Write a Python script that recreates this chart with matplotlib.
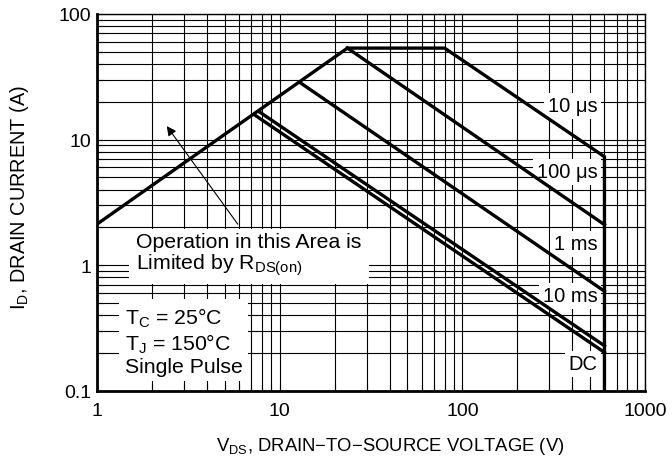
import numpy as np
import matplotlib
matplotlib.use("Agg")
import matplotlib.pyplot as plt
from matplotlib.ticker import LogLocator, NullFormatter

plt.rcParams['font.family'] = ['Liberation Sans', 'DejaVu Sans']
plt.rcParams['mathtext.fontset'] = 'custom'
plt.rcParams['mathtext.rm'] = 'Liberation Sans'

# --- data ---
rds_v = [1, 23.5]
rds_i = [2.12, 53.5]

us10_v = [23.5, 80, 600, 600]
us10_i = [53.5, 53.5, 7.3, 0.1]

us100_v = [23.5, 600]
us100_i = [53.5, 2.1]

ms1_v = [12.9, 600]
ms1_i = [28.5, 0.62]

ms10_v = [7.8, 600]
ms10_i = [16.5, 0.228]

dc_v = [7.3, 600]
dc_i = [15.7, 0.202]

x_ticks = [1, 10, 100, 1000]
x_labels = ['1', '10', '100', '1000']
y_ticks = [0.1, 1, 10, 100]
y_labels = ['0.1', '1', '10', '100']

fig = plt.figure(figsize=(6.72, 4.64), dpi=100)
ax = fig.add_axes([0.1443, 0.1558, 0.8155, 0.8119])
ax.set_xscale('log')
ax.set_yscale('log')
ax.set_xlim(1, 1000)
ax.set_ylim(0.1, 100)

# grid, every decade line plus 2..9
ax.set_axisbelow(True)
ax.xaxis.set_minor_locator(LogLocator(base=10, subs=np.arange(2, 10)))
ax.yaxis.set_minor_locator(LogLocator(base=10, subs=np.arange(2, 10)))
ax.xaxis.set_minor_formatter(NullFormatter())
ax.yaxis.set_minor_formatter(NullFormatter())
ax.grid(True, which='both', color='black', linewidth=0.8)

ax.set_xticks(x_ticks)
ax.set_xticklabels(x_labels)
ax.set_yticks(y_ticks)
ax.set_yticklabels(y_labels)
ax.tick_params(which='both', direction='in', length=5, width=0.8, labelsize=14)
ax.tick_params(axis='x', pad=8)
ax.tick_params(axis='y', pad=4)

for side in ['left', 'bottom']:
    ax.spines[side].set_linewidth(2)
for side in ['top', 'right']:
    ax.spines[side].set_linewidth(1)

lw = 2.4
ax.plot(rds_v, rds_i, color='black', lw=lw, zorder=5, solid_joinstyle='miter')
ax.plot(us10_v, us10_i, color='black', lw=lw, zorder=5, solid_joinstyle='miter')
ax.plot(us100_v, us100_i, color='black', lw=lw, zorder=5)
ax.plot(ms1_v, ms1_i, color='black', lw=lw, zorder=5)
ax.plot(ms10_v, ms10_i, color='black', lw=lw, zorder=5)
ax.plot(dc_v, dc_i, color='black', lw=lw, zorder=5)

box = dict(facecolor='white', edgecolor='none', pad=2.5)
for txt, yy in [('10 μs', 0.756), ('100 μs', 0.581), ('1 ms', 0.390),
                ('10 ms', 0.252), ('DC', 0.071)]:
    ax.text(0.913, yy, txt, transform=ax.transAxes, ha='right', va='center',
            fontsize=14.5, bbox=box, zorder=3)

ax.text(0.072, 0.362, 'Operation in this Area is\nLimited by $\\mathregular{R_{DS(on)}}$',
        transform=ax.transAxes, ha='left', va='center', fontsize=15.3,
        linespacing=1.05, bbox=dict(facecolor='white', edgecolor='none', pad=5), zorder=3)

ax.text(0.051, 0.133, '$\\mathregular{T_C}$ = 25°C\n$\\mathregular{T_J}$ = 150°C\nSingle Pulse',
        transform=ax.transAxes, ha='left', va='center', fontsize=15.3,
        linespacing=1.15, bbox=dict(facecolor='white', edgecolor='none', pad=4), zorder=3)

ax.annotate('', xy=(2.41, 12.8), xytext=(5.9, 2.12),
            arrowprops=dict(arrowstyle='-|>', color='black', lw=0.8,
                            mutation_scale=14, shrinkA=0, shrinkB=0),
            zorder=6)

ax.set_xlabel('$\\mathregular{V_{DS}}$, DRAIN−TO−SOURCE VOLTAGE (V)', fontsize=13.3)
ax.set_ylabel('$\\mathregular{I_D}$, DRAIN CURRENT (A)', fontsize=14.3)
ax.xaxis.set_label_coords(0.535, -0.118)
ax.yaxis.set_label_coords(-0.12, 0.515)

fig.savefig('out.png', dpi=100)
